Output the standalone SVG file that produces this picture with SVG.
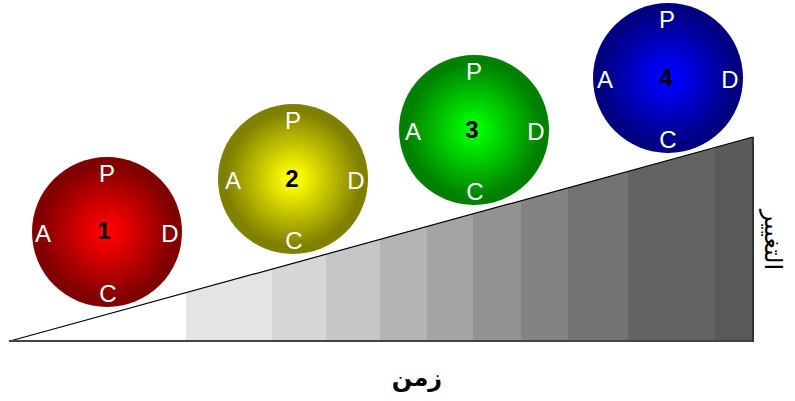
<svg xmlns="http://www.w3.org/2000/svg" width="795" height="401" viewBox="0 0 795 401">
<style>
.lbl{font-family:"Liberation Sans",Arial,sans-serif;font-size:24px;fill:#ffffff;text-anchor:middle}
.num{font-family:"Liberation Sans",Arial,sans-serif;font-size:24px;font-weight:bold;fill:#000000;text-anchor:middle}
.ar{font-family:"DejaVu Sans","Noto Sans",sans-serif;fill:#000000;text-anchor:middle}
</style>
<defs>
<radialGradient id="gR" cx="0.5" cy="0.5" r="0.5"><stop offset="0.08" stop-color="#ff0000"/><stop offset="0.9" stop-color="#800000"/></radialGradient>
<radialGradient id="gY" cx="0.5" cy="0.5" r="0.5"><stop offset="0.08" stop-color="#ffff00"/><stop offset="0.9" stop-color="#808000"/></radialGradient>
<radialGradient id="gG" cx="0.5" cy="0.5" r="0.5"><stop offset="0.08" stop-color="#00ff00"/><stop offset="0.9" stop-color="#008000"/></radialGradient>
<radialGradient id="gB" cx="0.5" cy="0.5" r="0.5"><stop offset="0.08" stop-color="#0000ff"/><stop offset="0.9" stop-color="#000080"/></radialGradient>
<clipPath id="tri"><polygon points="10,341 753,137 753,341"/></clipPath>
</defs>
<g id="ramp">
<g clip-path="url(#tri)">
<rect x="186" y="130" width="86" height="212" fill="#e4e4e4"/>
<rect x="272" y="130" width="54" height="212" fill="#d6d6d6"/>
<rect x="326" y="130" width="54" height="212" fill="#c6c6c6"/>
<rect x="380" y="130" width="47" height="212" fill="#b4b4b4"/>
<rect x="427" y="130" width="46" height="212" fill="#a4a4a4"/>
<rect x="473" y="130" width="48" height="212" fill="#939393"/>
<rect x="521" y="130" width="47" height="212" fill="#838383"/>
<rect x="568" y="130" width="60" height="212" fill="#737373"/>
<rect x="628" y="130" width="87" height="212" fill="#636363"/>
<rect x="715" y="130" width="40" height="212" fill="#5a5a5a"/>
</g>
<line x1="10" y1="341" x2="753" y2="137" stroke="#000" stroke-width="1.2"/>
<line x1="9" y1="341" x2="754" y2="341" stroke="#444" stroke-width="2"/>
<line x1="753" y1="137" x2="753" y2="342" stroke="#333" stroke-width="2"/>
</g>
<g id="node1">
<circle cx="107" cy="232" r="75" fill="url(#gR)"/>
<text class="lbl" x="107" y="182">P</text>
<text class="lbl" x="43" y="242">A</text>
<text class="lbl" x="170" y="242">D</text>
<text class="lbl" x="108" y="302">C</text>
<text class="num" x="104" y="239">1</text>
</g>
<g id="node2">
<circle cx="293" cy="179" r="75" fill="url(#gY)"/>
<text class="lbl" x="293" y="129">P</text>
<text class="lbl" x="233" y="189">A</text>
<text class="lbl" x="356" y="189">D</text>
<text class="lbl" x="294" y="249">C</text>
<text class="num" x="292" y="187">2</text>
</g>
<g id="node3">
<circle cx="474" cy="130" r="75" fill="url(#gG)"/>
<text class="lbl" x="474" y="80">P</text>
<text class="lbl" x="413" y="140">A</text>
<text class="lbl" x="536" y="140">D</text>
<text class="lbl" x="475" y="200">C</text>
<text class="num" x="472" y="138">3</text>
</g>
<g id="node4">
<circle cx="668" cy="78" r="75" fill="url(#gB)"/>
<text class="lbl" x="667" y="28">P</text>
<text class="lbl" x="605" y="88">A</text>
<text class="lbl" x="730" y="88">D</text>
<text class="lbl" x="668" y="148">C</text>
<text class="num" x="666" y="86">4</text>
</g>
<g id="connectors"></g>
<text class="ar" x="417" y="386" font-size="24" font-weight="bold">زمن</text>
<text class="ar" x="0" y="0" font-size="24" transform="translate(765,240) rotate(90)">التغيير</text>
</svg>
